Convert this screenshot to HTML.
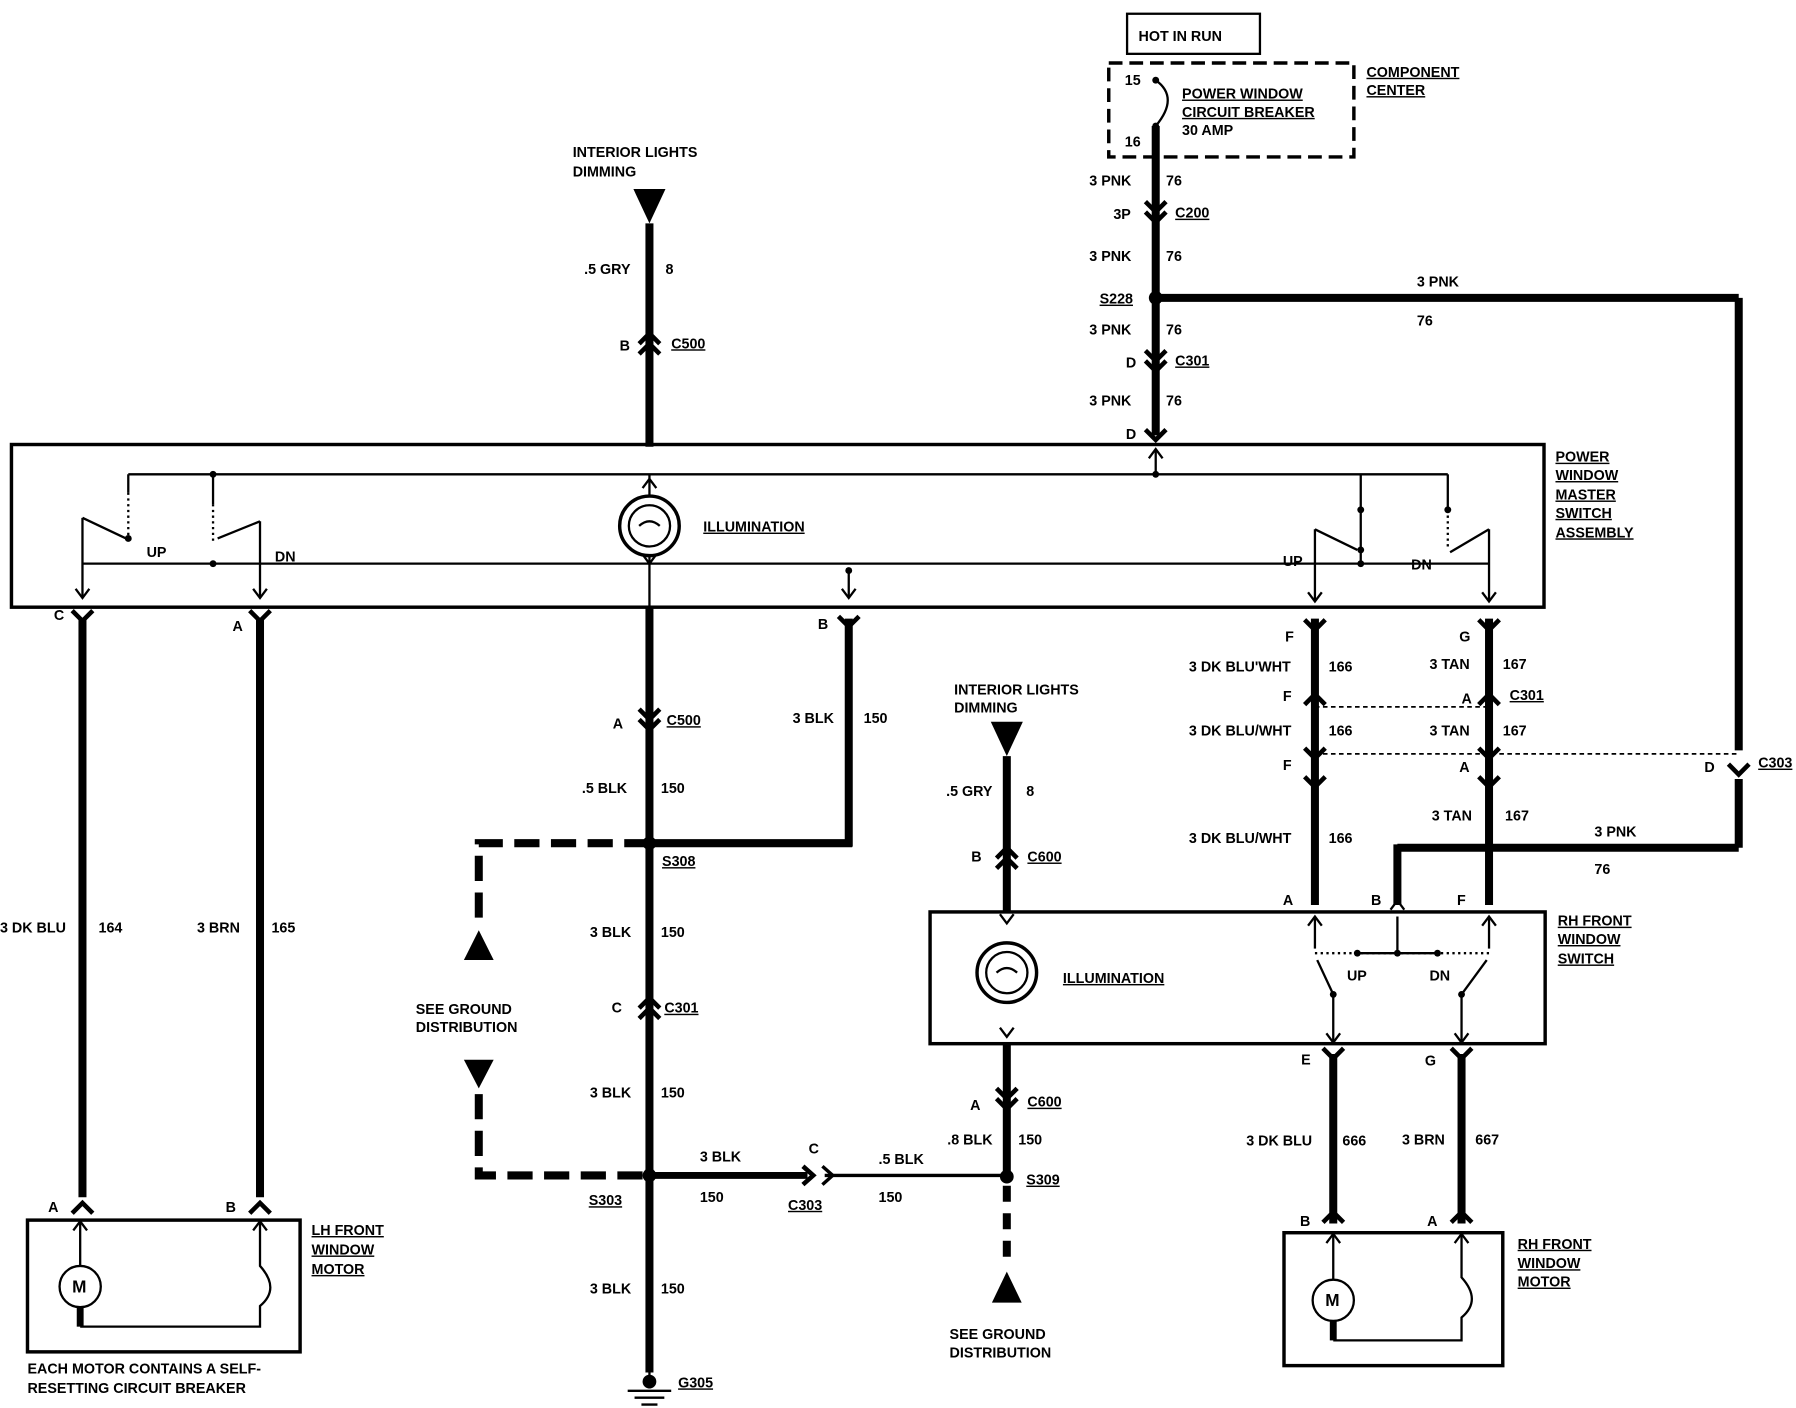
<!DOCTYPE html>
<html><head><meta charset="utf-8"><style>
html,body{margin:0;padding:0;background:#fff}
svg{display:block}
text{font-family:"Liberation Sans",sans-serif;font-weight:bold;font-size:12.5px;fill:#000}
.u{text-decoration:underline}
</style></head><body>
<svg width="1796" height="1408" viewBox="0 0 1568 1229" preserveAspectRatio="none" xmlns="http://www.w3.org/2000/svg">
<defs>
<polyline id="vd" points="-9,-7 0,2 9,-7" fill="none" stroke="#000" stroke-width="4"/>
<polyline id="vu" points="-9,7 0,-2 9,7" fill="none" stroke="#000" stroke-width="4"/>
<polyline id="ad" points="-6,-8 0,0 6,-8" fill="none" stroke="#000" stroke-width="2"/>
<polyline id="au" points="-6,8 0,0 6,8" fill="none" stroke="#000" stroke-width="2"/>
</defs>
<g fill="none" stroke="#000">
<!-- top -->
<rect x="984" y="12" width="116" height="35" stroke-width="2"/>
<rect x="968" y="55" width="214" height="82" stroke-width="3" stroke-dasharray="12,6"/>
<path d="M1009 70 Q1030 85 1009 110" stroke-width="2"/>
<line x1="1009" y1="110" x2="1009" y2="380" stroke-width="7"/>
<line x1="1009" y1="260" x2="1518" y2="260" stroke-width="7"/>
<line x1="1518" y1="260" x2="1518" y2="655" stroke-width="7"/>
<line x1="1518" y1="680" x2="1518" y2="740" stroke-width="7"/>
<line x1="1518" y1="740" x2="1220" y2="740" stroke-width="7"/>
<line x1="1220" y1="737" x2="1220" y2="790" stroke-width="7"/>
<!-- interior dimming 1 -->
<line x1="567" y1="195" x2="567" y2="390" stroke-width="7"/>
<!-- master box -->
<rect x="10" y="388" width="1338" height="142" stroke-width="3"/>
<line x1="112" y1="414" x2="1264" y2="414" stroke-width="2"/>
<line x1="72" y1="492" x2="1300" y2="492" stroke-width="2"/>
<line x1="1009" y1="392" x2="1009" y2="414" stroke-width="2"/>
<line x1="112" y1="414" x2="112" y2="430" stroke-width="2"/>
<line x1="112" y1="430" x2="112" y2="470" stroke-width="2" stroke-dasharray="2,3"/>
<line x1="186" y1="414" x2="186" y2="440" stroke-width="2"/>
<line x1="186" y1="440" x2="186" y2="475" stroke-width="2" stroke-dasharray="2,3"/>
<line x1="72" y1="452" x2="72" y2="522" stroke-width="2"/>
<line x1="72" y1="452" x2="110" y2="470" stroke-width="2"/>
<line x1="227" y1="455" x2="227" y2="522" stroke-width="2"/>
<line x1="227" y1="455" x2="190" y2="470" stroke-width="2"/>
<line x1="1188" y1="414" x2="1188" y2="445" stroke-width="2"/>
<line x1="1188" y1="445" x2="1188" y2="492" stroke-width="2"/>
<line x1="1264" y1="414" x2="1264" y2="445" stroke-width="2"/>
<line x1="1264" y1="450" x2="1264" y2="480" stroke-width="2" stroke-dasharray="2,3"/>
<line x1="1148" y1="462" x2="1148" y2="525" stroke-width="2"/>
<line x1="1148" y1="462" x2="1185" y2="480" stroke-width="2"/>
<line x1="1300" y1="462" x2="1300" y2="525" stroke-width="2"/>
<line x1="1300" y1="462" x2="1266" y2="482" stroke-width="2"/>
<line x1="741" y1="498" x2="741" y2="522" stroke-width="2"/>
<line x1="567" y1="414" x2="567" y2="432" stroke-width="2"/>
<line x1="567" y1="486" x2="567" y2="530" stroke-width="2"/>
<circle cx="567" cy="459" r="26" stroke-width="3"/>
<circle cx="567" cy="459" r="18" stroke-width="2"/>
<path d="M558 459 q9 -8 18 0" stroke-width="2"/>
<!-- left wires -->
<line x1="72" y1="540" x2="72" y2="1045" stroke-width="7"/>
<line x1="227" y1="540" x2="227" y2="1045" stroke-width="7"/>
<rect x="24" y="1065" width="238" height="115" stroke-width="3"/>
<circle cx="70" cy="1123" r="18" stroke-width="2"/>
<line x1="70" y1="1065" x2="70" y2="1105" stroke-width="2"/>
<line x1="70" y1="1141" x2="70" y2="1158" stroke-width="6"/>
<path d="M70 1158 H227 V1140 Q245 1125 227 1105 V1065" stroke-width="2"/>
<!-- center -->
<line x1="567" y1="530" x2="567" y2="1198" stroke-width="7"/>
<line x1="567" y1="736" x2="744" y2="736" stroke-width="7"/>
<line x1="741" y1="540" x2="741" y2="739" stroke-width="7"/>
<path d="M567 736 H418 V808" stroke-width="7" stroke-dasharray="22,10"/>
<path d="M418 955 V1026 H567" stroke-width="7" stroke-dasharray="22,10"/>
<line x1="567" y1="1026" x2="705" y2="1026" stroke-width="6"/>
<line x1="720" y1="1026" x2="879" y2="1026" stroke-width="3"/>
<line x1="567" y1="1198" x2="567" y2="1212" stroke-width="2"/>
<line x1="548" y1="1214" x2="586" y2="1214" stroke-width="2"/>
<line x1="554" y1="1220" x2="580" y2="1220" stroke-width="2"/>
<line x1="560" y1="1226" x2="574" y2="1226" stroke-width="2"/>
<!-- dimming 2 -->
<line x1="879" y1="660" x2="879" y2="797" stroke-width="7"/>
<rect x="812" y="796" width="537" height="115" stroke-width="3"/>
<circle cx="879" cy="849" r="26" stroke-width="3"/>
<circle cx="879" cy="849" r="18" stroke-width="2"/>
<path d="M870 849 q9 -8 18 0" stroke-width="2"/>
<line x1="879" y1="911" x2="879" y2="1026" stroke-width="7"/>
<line x1="879" y1="1035" x2="879" y2="1105" stroke-width="7" stroke-dasharray="14,10"/>
<!-- right wires -->
<line x1="1148" y1="540" x2="1148" y2="790" stroke-width="7"/>
<line x1="1300" y1="540" x2="1300" y2="790" stroke-width="7"/>
<line x1="1148" y1="617" x2="1300" y2="617" stroke-width="1.5" stroke-dasharray="4,3"/>
<line x1="1148" y1="658" x2="1518" y2="658" stroke-width="1.5" stroke-dasharray="4,3"/>
<!-- rh switch internals -->
<line x1="1148" y1="800" x2="1148" y2="828" stroke-width="2"/>
<line x1="1300" y1="800" x2="1300" y2="828" stroke-width="2"/>
<line x1="1220" y1="800" x2="1220" y2="832" stroke-width="2"/>
<line x1="1185" y1="832" x2="1255" y2="832" stroke-width="2"/>
<line x1="1148" y1="832" x2="1300" y2="832" stroke-width="2" stroke-dasharray="2,3"/>
<line x1="1164" y1="868" x2="1164" y2="910" stroke-width="2"/>
<line x1="1164" y1="868" x2="1150" y2="838" stroke-width="2"/>
<line x1="1276" y1="868" x2="1276" y2="910" stroke-width="2"/>
<line x1="1276" y1="868" x2="1298" y2="838" stroke-width="2"/>
<line x1="1164" y1="920" x2="1164" y2="1068" stroke-width="7"/>
<line x1="1276" y1="920" x2="1276" y2="1068" stroke-width="7"/>
<rect x="1121" y="1076" width="191" height="116" stroke-width="3"/>
<circle cx="1164" cy="1135" r="18" stroke-width="2"/>
<line x1="1164" y1="1076" x2="1164" y2="1117" stroke-width="2"/>
<line x1="1164" y1="1153" x2="1164" y2="1170" stroke-width="6"/>
<path d="M1164 1170 H1276 V1150 Q1294 1135 1276 1115 V1076" stroke-width="2"/>
</g>
<g fill="#000">
<polygon points="553,165 581,165 567,195"/>
<polygon points="865,630 893,630 879,660"/>
<polygon points="405,838 431,838 418,812"/>
<polygon points="405,925 431,925 418,950"/>
<polygon points="866,1137 892,1137 879,1110"/>
<circle cx="1009" cy="260" r="6"/><circle cx="567" cy="736" r="6"/>
<circle cx="567" cy="1026" r="6"/><circle cx="879" cy="1027" r="6"/>
<circle cx="567" cy="1206" r="6"/>
<circle cx="1009" cy="414" r="3"/><circle cx="112" cy="470" r="3"/><circle cx="186" cy="414" r="3"/>
<circle cx="186" cy="492" r="3"/><circle cx="741" cy="498" r="3"/><circle cx="1188" cy="445" r="3"/>
<circle cx="1188" cy="492" r="3"/><circle cx="1264" cy="445" r="3"/><circle cx="1188" cy="480" r="3"/>
<circle cx="1009" cy="70" r="3"/><circle cx="1009" cy="110" r="3"/>
<circle cx="1185" cy="832" r="3"/><circle cx="1255" cy="832" r="3"/><circle cx="1220" cy="832" r="3"/>
<circle cx="1164" cy="868" r="3"/><circle cx="1276" cy="868" r="3"/>
</g>
<!-- chevrons -->
<use href="#vd" x="1009" y="183"/><use href="#vd" x="1009" y="192"/>
<use href="#vd" x="1009" y="313"/><use href="#vd" x="1009" y="322"/>
<use href="#vd" x="1009" y="382"/>
<use href="#vu" x="567" y="293"/><use href="#vu" x="567" y="302"/>
<use href="#vd" x="72" y="540"/><use href="#vd" x="227" y="540"/>
<use href="#vd" x="741" y="545"/>
<use href="#vd" x="567" y="626"/><use href="#vd" x="567" y="635"/>
<use href="#vu" x="567" y="873"/><use href="#vu" x="567" y="882"/>
<use href="#vu" x="72" y="1052"/><use href="#vu" x="227" y="1052"/>
<use href="#vd" x="1518" y="674"/>
<use href="#vd" x="1148" y="548"/><use href="#vd" x="1300" y="548"/>
<use href="#vu" x="1148" y="608"/><use href="#vu" x="1300" y="608"/>
<use href="#vd" x="1148" y="660"/><use href="#vd" x="1300" y="660"/>
<use href="#vd" x="1148" y="685"/><use href="#vd" x="1300" y="685"/>
<use href="#vu" x="879" y="742"/><use href="#vu" x="879" y="751"/>
<use href="#vd" x="879" y="957"/><use href="#vd" x="879" y="966"/>
<use href="#vd" x="1164" y="922"/><use href="#vd" x="1276" y="922"/>
<use href="#vu" x="1164" y="1060"/><use href="#vu" x="1276" y="1060"/>
<polyline points="701,1018 710,1026 701,1034" fill="none" stroke="#000" stroke-width="4"/>
<polyline points="718,1018 727,1026 718,1034" fill="none" stroke="#000" stroke-width="3"/>
<!-- small arrows -->
<use href="#ad" x="72" y="522"/><use href="#ad" x="227" y="522"/><use href="#ad" x="741" y="522"/>
<use href="#ad" x="1148" y="525"/><use href="#ad" x="1300" y="525"/>
<use href="#au" x="1009" y="392"/><use href="#ad" x="567" y="492"/><use href="#au" x="567" y="418"/>
<use href="#au" x="1148" y="800"/><use href="#au" x="1220" y="786"/><use href="#au" x="1300" y="800"/>
<use href="#ad" x="1164" y="910"/><use href="#ad" x="1276" y="910"/>
<use href="#au" x="70" y="1066"/><use href="#au" x="227" y="1066"/>
<use href="#au" x="1164" y="1077"/><use href="#au" x="1276" y="1077"/>
<use href="#ad" x="879" y="806"/><use href="#ad" x="879" y="905"/>
<!-- texts -->
<text x="994" y="36">HOT IN RUN</text>
<text x="982" y="74">15</text><text x="982" y="128">16</text>
<text x="1032" y="86" class="u">POWER WINDOW</text>
<text x="1032" y="102" class="u">CIRCUIT BREAKER</text>
<text x="1032" y="118">30 AMP</text>
<text x="1193" y="67" class="u">COMPONENT</text><text x="1193" y="83" class="u">CENTER</text>
<text x="951" y="162">3 PNK</text><text x="1018" y="162">76</text>
<text x="972" y="191">3P</text><text x="1026" y="190" class="u">C200</text>
<text x="951" y="228">3 PNK</text><text x="1018" y="228">76</text>
<text x="960" y="265" class="u">S228</text>
<text x="1237" y="250">3 PNK</text><text x="1237" y="284">76</text>
<text x="951" y="292">3 PNK</text><text x="1018" y="292">76</text>
<text x="983" y="321">D</text><text x="1026" y="319" class="u">C301</text>
<text x="951" y="354">3 PNK</text><text x="1018" y="354">76</text>
<text x="983" y="383">D</text>
<text x="500" y="137">INTERIOR LIGHTS</text><text x="500" y="154">DIMMING</text>
<text x="510" y="239">.5 GRY</text><text x="581" y="239">8</text>
<text x="541" y="306">B</text><text x="586" y="304" class="u">C500</text>
<text x="1358" y="403" class="u">POWER</text><text x="1358" y="419" class="u">WINDOW</text>
<text x="1358" y="436" class="u">MASTER</text><text x="1358" y="452" class="u">SWITCH</text>
<text x="1358" y="469" class="u">ASSEMBLY</text>
<text x="614" y="464" class="u">ILLUMINATION</text>
<text x="128" y="486">UP</text><text x="240" y="490">DN</text>
<text x="1120" y="494">UP</text><text x="1232" y="497">DN</text>
<text x="47" y="541">C</text><text x="203" y="551">A</text><text x="714" y="549">B</text>
<text x="0" y="814">3 DK BLU</text><text x="86" y="814">164</text>
<text x="172" y="814">3 BRN</text><text x="237" y="814">165</text>
<text x="42" y="1058">A</text><text x="197" y="1058">B</text>
<text x="272" y="1078" class="u">LH FRONT</text><text x="272" y="1095" class="u">WINDOW</text><text x="272" y="1112" class="u">MOTOR</text>
<text x="24" y="1199">EACH MOTOR CONTAINS A SELF-</text><text x="24" y="1216">RESETTING CIRCUIT BREAKER</text>
<text x="535" y="636">A</text><text x="582" y="633" class="u">C500</text>
<text x="692" y="631">3 BLK</text><text x="754" y="631">150</text>
<text x="508" y="692">.5 BLK</text><text x="577" y="692">150</text>
<text x="578" y="756" class="u">S308</text>
<text x="515" y="818">3 BLK</text><text x="577" y="818">150</text>
<text x="363" y="885">SEE GROUND</text><text x="363" y="901">DISTRIBUTION</text>
<text x="534" y="884">C</text><text x="580" y="884" class="u">C301</text>
<text x="515" y="958">3 BLK</text><text x="577" y="958">150</text>
<text x="611" y="1014">3 BLK</text><text x="611" y="1049">150</text>
<text x="706" y="1007">C</text><text x="688" y="1056" class="u">C303</text>
<text x="767" y="1016">.5 BLK</text><text x="767" y="1049">150</text>
<text x="514" y="1052" class="u">S303</text><text x="896" y="1034" class="u">S309</text>
<text x="515" y="1129">3 BLK</text><text x="577" y="1129">150</text>
<text x="592" y="1211" class="u">G305</text>
<text x="833" y="606">INTERIOR LIGHTS</text><text x="833" y="622">DIMMING</text>
<text x="826" y="695">.5 GRY</text><text x="896" y="695">8</text>
<text x="848" y="752">B</text><text x="897" y="752" class="u">C600</text>
<text x="928" y="858" class="u">ILLUMINATION</text>
<text x="847" y="969">A</text><text x="897" y="966" class="u">C600</text>
<text x="827" y="999">.8 BLK</text><text x="889" y="999">150</text>
<text x="829" y="1169">SEE GROUND</text><text x="829" y="1185">DISTRIBUTION</text>
<text x="1122" y="560">F</text><text x="1038" y="586">3 DK BLU'WHT</text><text x="1160" y="586">166</text>
<text x="1274" y="560">G</text><text x="1248" y="584">3 TAN</text><text x="1312" y="584">167</text>
<text x="1120" y="612">F</text><text x="1276" y="614">A</text><text x="1318" y="611" class="u">C301</text>
<text x="1038" y="642">3 DK BLU/WHT</text><text x="1160" y="642">166</text>
<text x="1248" y="642">3 TAN</text><text x="1312" y="642">167</text>
<text x="1120" y="672">F</text><text x="1274" y="674">A</text><text x="1488" y="674">D</text>
<text x="1535" y="670" class="u">C303</text>
<text x="1038" y="736">3 DK BLU/WHT</text><text x="1160" y="736">166</text>
<text x="1250" y="716">3 TAN</text><text x="1314" y="716">167</text>
<text x="1392" y="730">3 PNK</text><text x="1392" y="763">76</text>
<text x="1120" y="790">A</text><text x="1197" y="790">B</text><text x="1272" y="790">F</text>
<text x="1360" y="808" class="u">RH FRONT</text><text x="1360" y="824" class="u">WINDOW</text><text x="1360" y="841" class="u">SWITCH</text>
<text x="1176" y="856">UP</text><text x="1248" y="856">DN</text>
<text x="1136" y="929">E</text><text x="1244" y="930">G</text>
<text x="1088" y="1000">3 DK BLU</text><text x="1172" y="1000">666</text>
<text x="1224" y="999">3 BRN</text><text x="1288" y="999">667</text>
<text x="1135" y="1070">B</text><text x="1246" y="1070">A</text>
<text x="1325" y="1090" class="u">RH FRONT</text><text x="1325" y="1107" class="u">WINDOW</text><text x="1325" y="1123" class="u">MOTOR</text>
<text x="1157" y="1140" style="font-size:15px">M</text>
<text x="63" y="1128" style="font-size:15px">M</text>
</svg>
</body></html>
